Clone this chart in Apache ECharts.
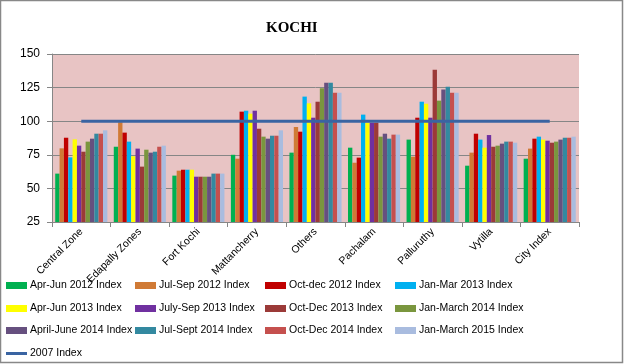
<!DOCTYPE html>
<html><head><meta charset="utf-8">
<script src="https://cdn.jsdelivr.net/npm/echarts@6/dist/echarts.min.js"></script>
<style>html,body{margin:0;padding:0;background:#fff}#c{width:625px;height:364px}</style>
</head><body><div id="c"></div>
<script>
const categories = ["Central Zone","Edapally Zones","Fort Kochi","Mattancherry","Others","Pachalam","Palluruthy","Vytilla","City Index"];
const seriesNames = ["Apr-Jun 2012 Index","Jul-Sep 2012 Index","Oct-dec 2012 Index","Jan-Mar 2013 Index","Apr-Jun 2013 Index","July-Sep 2013 Index","Oct-Dec 2013 Index","Jan-March 2014 Index","April-June 2014 Index","Jul-Sept 2014 Index","Oct-Dec 2014 Index","Jan-March 2015 Index"];
const aprJun2012 = [61, 81, 59.5, 75, 76.6, 80.3, 86.3, 66.9, 72.1];
const julSep2012 = [79.8, 99.2, 63.2, 72.1, 95.7, 69.1, 73.6, 76.6, 79.6];
const octDec2012 = [87.7, 91.5, 63.9, 107.1, 92.2, 72.9, 102.6, 90.7, 87];
const janMar2013 = [73.1, 84.8, 63.9, 107.8, 118.3, 104.9, 114.5, 86.3, 88.5];
const aprJun2013 = [86.5, 73.9, 63.9, 105.6, 113.3, 98.9, 113, 80.3, 86.3];
const julSep2013 = [81.8, 79.6, 58.7, 107.8, 102.6, 98.9, 102.6, 89.7, 85.5];
const octDec2013 = [77.3, 66.2, 58.7, 94.4, 114.5, 98.9, 138.3, 81, 84];
const janMar2014 = [84.8, 78.8, 58.7, 88.5, 124.5, 88.5, 115.3, 81.8, 84.8];
const aprJun2014 = [87, 76.6, 58.7, 87, 128.7, 90.7, 123.5, 83.3, 86.3];
const julSep2014 = [90.7, 77.3, 61, 89.2, 128.7, 87, 125.7, 84.8, 87.7];
const octDec2014 = [90.7, 81, 61, 89.2, 121.2, 90, 121.2, 84.8, 87.7];
const janMar2015 = [93.2, 81.8, 61, 93.2, 121.2, 90, 121.2, 84, 88.5];
const index2007 = [100, 100, 100, 100, 100, 100, 100, 100, 100];
const yTicks = [25, 50, 75, 100, 125, 150];

const barData = [aprJun2012, julSep2012, octDec2012, janMar2013, aprJun2013, julSep2013, octDec2013, janMar2014, aprJun2014, julSep2014, octDec2014, janMar2015];
const colors = ["#00B050","#D07A35","#C00000","#00B0F0","#FFFF00","#7030A0","#9B3A38","#7A963E","#66507F","#3389A0","#C5504E","#A9BCDF"];
const lineName = "2007 Index";
const lineColor = "#3A64A2";

const series = barData.map((d, i) => ({
  name: seriesNames[i], type: 'bar', data: d, barGap: '0%', barCategoryGap: '11%',
  itemStyle: {color: colors[i]}
}));
series.push({
  name: lineName, type: 'line', data: index2007, symbol: 'none', showSymbol: false,
  lineStyle: {color: lineColor, width: 3}, itemStyle: {color: lineColor}, z: 5
});

const allNames = seriesNames.concat([lineName]);
const colX = [6, 135, 265, 395];
const rowY = [280, 303, 325, 348];
const legends = allNames.map((n, i) => {
  const lg = {
    data: [n], left: colX[i % 4], top: rowY[Math.floor(i / 4)], padding: 0,
    itemWidth: 21, itemHeight: i === 12 ? 3 : 7, itemGap: 0,
    icon: 'rect',
    textStyle: {fontSize: 10.5, color: '#000', fontFamily: 'Liberation Sans', padding: [0,0,0,-2]},
    selectedMode: false
  };
  if (i === 12) lg.itemStyle = {color: lineColor};
  return lg;
});

const chart = echarts.init(document.getElementById('c'), null, {renderer: 'canvas'});
chart.setOption({
  animation: false,
  backgroundColor: '#fff',
  title: {text: 'KOCHI', left: 261, top: 16, textStyle: {fontFamily: 'Liberation Serif', fontWeight: 'bold', fontSize: 15, color: '#000'}},
  grid: {left: 52, right: 46, top: 54, bottom: 142, show: true, backgroundColor: '#E8C4C4', borderWidth: 0},
  legend: legends,
  xAxis: {
    type: 'category', data: categories,
    axisLine: {lineStyle: {color: '#868686'}},
    axisTick: {show: true, alignWithLabel: false, length: 5, lineStyle: {color: '#868686'}},
    axisLabel: {rotate: 45, fontSize: 10.5, color: '#000', fontFamily: 'Liberation Sans', interval: 0, margin: 8}
  },
  yAxis: {
    type: 'value', min: yTicks[0], max: yTicks[yTicks.length - 1], interval: 25,
    axisLine: {show: true, lineStyle: {color: '#868686'}},
    axisTick: {show: true, length: 5, lineStyle: {color: '#868686'}},
    splitLine: {lineStyle: {color: '#868686', width: 1}},
    axisLabel: {fontSize: 12, color: '#000', fontFamily: 'Liberation Sans', margin: 12}
  },
  graphic: [{type: 'rect', shape: {x: 0.5, y: 0.5, width: 622, height: 362}, style: {fill: 'none', stroke: '#888', lineWidth: 1.5}, silent: true}],
  series: series
});
</script></body></html>
